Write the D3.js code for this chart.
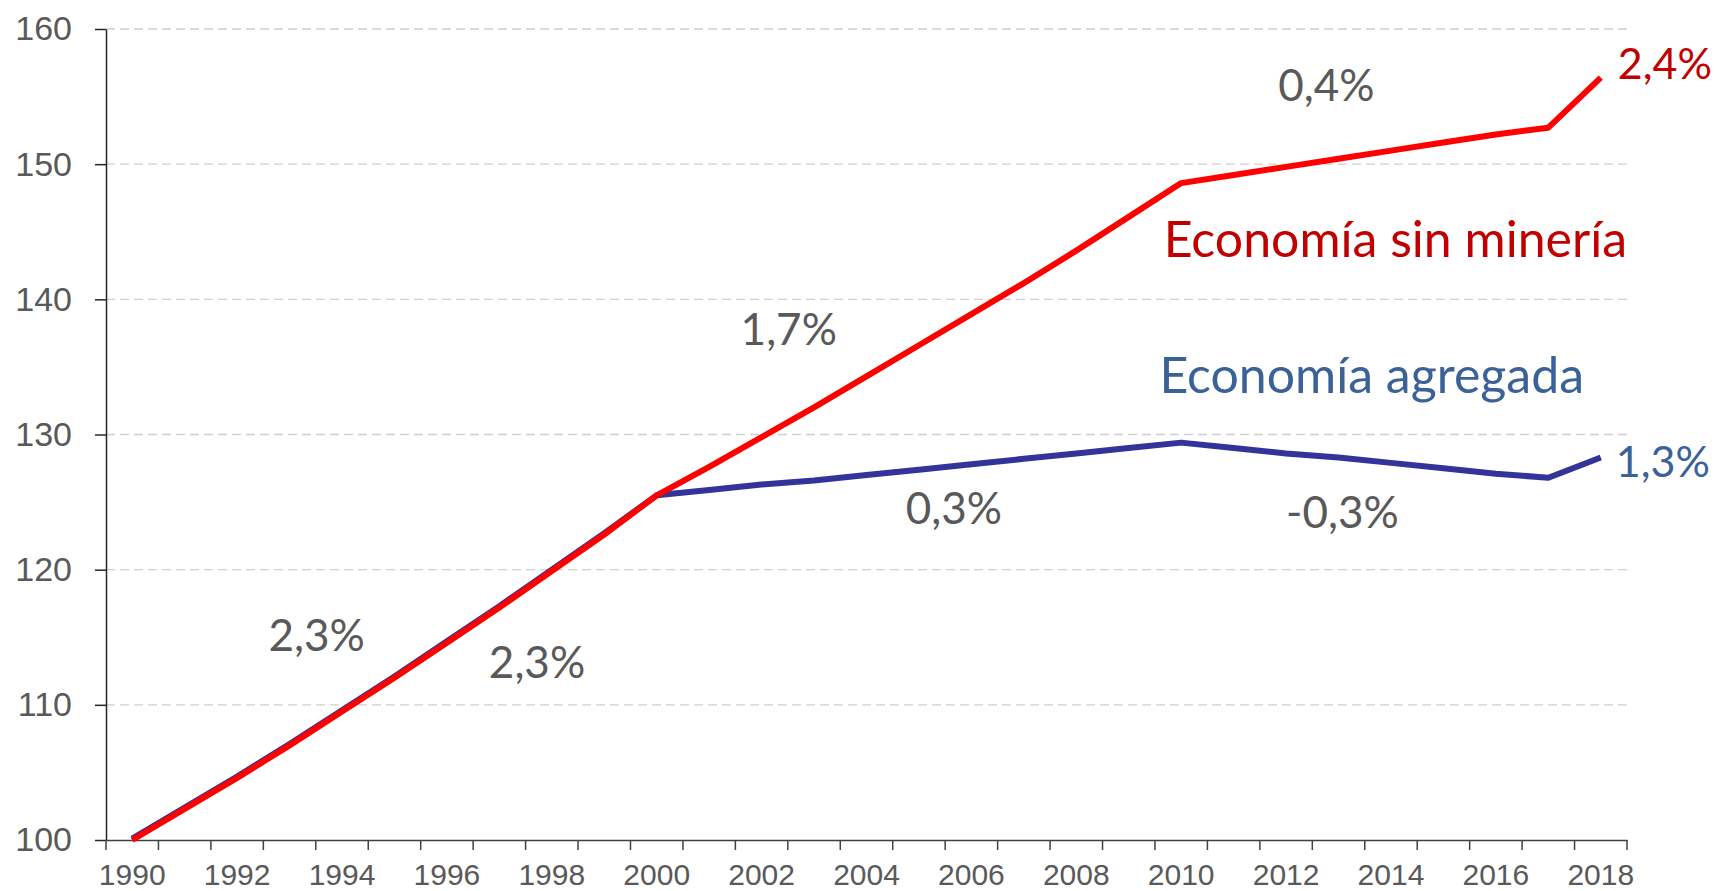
<!DOCTYPE html>
<html>
<head>
<meta charset="utf-8">
<script src="https://cdn.jsdelivr.net/npm/d3@7"></script>
<style>
  body { margin: 0; background: #fff; }
  .tick text { fill: #595959; font-family: "Liberation Sans", Arial, sans-serif; }
  .note { font-family: Lato, "Noto Sans", sans-serif; }
</style>
</head>
<body>
<div id="chart"></div>
<script>
// Years on the category axis
const years = d3.range(1990, 2019);

// Economía sin minería (index, 1990 = 100)
const sinMineria = [100, 102.3, 104.6, 107.0, 109.5, 112.0, 114.6, 117.2, 119.9, 122.6, 125.5,
  127.6, 129.8, 132.0, 134.3, 136.6, 138.9, 141.2, 143.6, 146.1, 148.6,
  149.2, 149.8, 150.4, 151.0, 151.6, 152.2, 152.7, 156.4];

// Economía agregada (index, 1990 = 100)
const agregada = [100.1, 102.4, 104.7, 107.1, 109.6, 112.1, 114.7, 117.3, 120.0, 122.7, 125.5,
  125.9, 126.3, 126.6, 127.0, 127.4, 127.8, 128.2, 128.6, 129.0, 129.4,
  129.0, 128.6, 128.3, 127.9, 127.5, 127.1, 126.8, 128.3];

const yTicks = [100, 110, 120, 130, 140, 150, 160];
const xLabels = years.filter((d) => d % 2 === 0);

// Growth-rate labels: [text, year where the text starts, value at its baseline]
const rateLabels = [
  ['2,3%', 1992.6, 114.0],
  ['2,3%', 1996.8, 112.0],
  ['1,7%', 2001.6, 136.6],
  ['0,3%', 2004.75, 123.4],
  ['-0,3%', 2012.0, 123.1],
  ['0,4%', 2011.85, 154.7],
];

const width = 1715;
const height = 891;
const margin = { top: 29, right: 88, bottom: 51, left: 106 };

const svg = d3.select('#chart')
  .append('svg')
  .attr('width', width)
  .attr('height', height);

// Scales
const xScale = d3.scaleBand()
  .domain(years)
  .range([margin.left, width - margin.right])
  .padding(0);

const yScale = d3.scaleLinear()
  .domain([100, 160])
  .range([height - margin.bottom, margin.top]);

const xCenter = (year) => xScale(year) + xScale.bandwidth() / 2;
// position on a continuous year value (for the labels)
const xYear = d3.scaleLinear()
  .domain([1990, 2018])
  .range([xCenter(1990), xCenter(2018)]);

// Dashed gridlines
svg.append('g')
  .selectAll('line')
  .data(yTicks.slice(1))
  .enter()
  .append('line')
  .attr('x1', margin.left)
  .attr('x2', width - margin.right)
  .attr('y1', (d) => yScale(d))
  .attr('y2', (d) => yScale(d))
  .attr('stroke', '#d0d0d0')
  .attr('stroke-width', 1.3)
  .attr('stroke-dasharray', '9,5');

// Y axis
svg.append('g')
  .attr('transform', `translate(${margin.left}, 0)`)
  .call(d3.axisLeft(yScale).tickValues(yTicks).tickSize(11).tickPadding(23).tickSizeOuter(0))
  .call((g) => g.selectAll('.tick text').style('font-size', '34px'))
  .call((g) => g.selectAll('line, path').attr('stroke', '#262626').attr('stroke-width', 1.5));

// X axis labels (every second year, centred on its category)
svg.append('g')
  .attr('transform', `translate(0, ${height - margin.bottom})`)
  .call(d3.axisBottom(xScale).tickValues(xLabels).tickSize(0).tickPadding(24).tickSizeOuter(0))
  .call((g) => g.selectAll('.tick text').style('font-size', '30px'))
  .call((g) => g.select('.domain').attr('stroke', '#404040').attr('stroke-width', 1.5));

// X tick marks between categories
svg.append('g')
  .selectAll('line')
  .data(years.concat([null]))
  .enter()
  .append('line')
  .attr('x1', (d) => (d === null ? xScale.range()[1] : xScale(d)))
  .attr('x2', (d) => (d === null ? xScale.range()[1] : xScale(d)))
  .attr('y1', height - margin.bottom)
  .attr('y2', height - margin.bottom + 10)
  .attr('stroke', '#404040')
  .attr('stroke-width', 1.5);

// Lines
const line = d3.line()
  .x((d, i) => xCenter(years[i]))
  .y((d) => yScale(d));

svg.append('path')
  .datum(agregada)
  .attr('fill', 'none')
  .attr('stroke', '#333399')
  .attr('stroke-width', 6)
  .attr('stroke-linejoin', 'round')
  .attr('d', line);

svg.append('path')
  .datum(sinMineria)
  .attr('fill', 'none')
  .attr('stroke', '#ff0000')
  .attr('stroke-width', 6)
  .attr('stroke-linejoin', 'round')
  .attr('d', line);

// Growth-rate labels
svg.append('g')
  .selectAll('text')
  .data(rateLabels)
  .enter()
  .append('text')
  .attr('class', 'note')
  .attr('x', (d) => xYear(d[1]))
  .attr('y', (d) => yScale(d[2]))
  .attr('fill', '#595959')
  .style('font-size', '44px')
  .text((d) => d[0]);

// End-point rates
svg.append('text')
  .attr('class', 'note')
  .attr('x', xCenter(2018) + 17)
  .attr('y', yScale(sinMineria[28]) + 1)
  .attr('fill', '#c00000')
  .style('font-size', '43px')
  .text('2,4%');

svg.append('text')
  .attr('class', 'note')
  .attr('x', xCenter(2018) + 15)
  .attr('y', yScale(agregada[28]) + 20)
  .attr('fill', '#3a6298')
  .style('font-size', '43px')
  .text('1,3%');

// Series names
svg.append('text')
  .attr('class', 'note')
  .attr('x', xScale.range()[1])
  .attr('y', yScale(143.1))
  .attr('text-anchor', 'end')
  .attr('fill', '#c00000')
  .style('font-size', '50px')
  .text('Economía sin minería');

svg.append('text')
  .attr('class', 'note')
  .attr('x', xScale.range()[1] - 43)
  .attr('y', yScale(133.1))
  .attr('text-anchor', 'end')
  .attr('fill', '#3a6298')
  .style('font-size', '50px')
  .text('Economía agregada');
</script>
</body>
</html>
